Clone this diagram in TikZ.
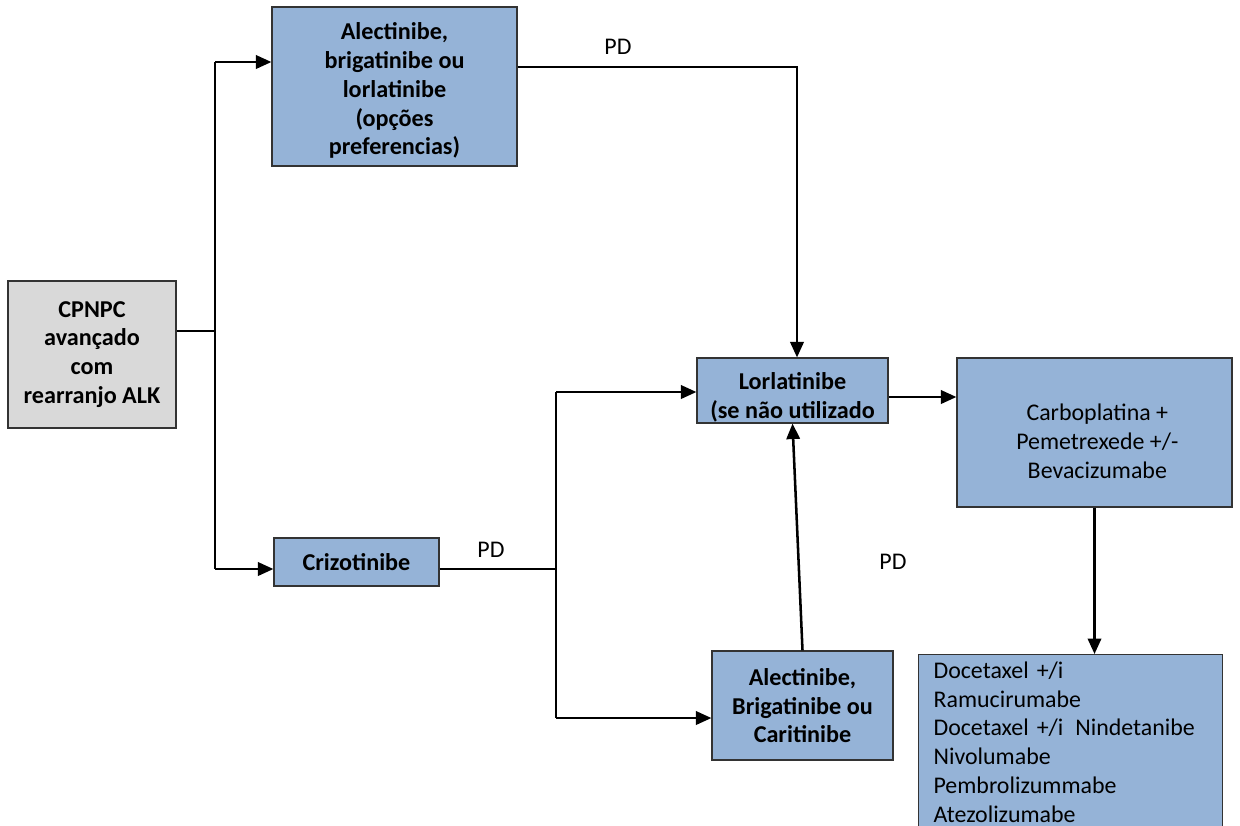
\documentclass[tikz,border=0pt]{standalone}
\usepackage{fontspec}
\setmainfont{Carlito}
\usetikzlibrary{arrows.meta}
\definecolor{boxblue}{HTML}{95B3D7}
\definecolor{boxgray}{HTML}{D9D9D9}
% lower the ink of a stack of lines, keep its size
\newcommand{\lowstack}[2]{\raisebox{-#1}[\height][\depth]{\begin{tabular}{@{}c@{}}#2\end{tabular}}}
\begin{document}
\begin{tikzpicture}[x=0.025cm, y=-0.025cm,
  box/.style={draw=black!80, line width=0.8pt, fill=boxblue, align=center,
    font=\fontsize{17.2}{20.5}\selectfont\bfseries, inner sep=0pt},
  startbox/.style={box, fill=boxgray},
  listbox/.style={draw=black!80, line width=0.8pt, fill=boxblue, align=left,
    font=\fontsize{17}{20.5}\selectfont, anchor=north west,
    inner xsep=0.375cm, inner ysep=5pt, text width=6.85cm},
  lbl/.style={font=\fontsize{17}{20.5}\selectfont},
  conn/.style={line width=1.8pt},
  tri/.style={conn, -{Triangle[length=11pt, width=9.5pt]}}]
\useasboundingbox (0,0) rectangle (1240,825);
\node[startbox, minimum width=4.2cm, minimum height=3.675cm] (n0) at (92,354.5)
  {CPNPC\\avançado\\com\\rearranjo ALK};
\node[box, minimum width=6.125cm, minimum height=3.975cm] (n1) at (394.5,86.5)
  {\lowstack{3.5pt}{Alectinibe,\\brigatinibe ou\\lorlatinibe\\(opções\\preferencias)}};
\node[box, minimum width=4.125cm, minimum height=1.2cm] (n2) at (356.5,562)
  {\lowstack{2pt}{Crizotinibe}};
\node[box, minimum width=4.775cm, minimum height=1.625cm] (n3) at (792.5,390.5)
  {\lowstack{5.5pt}{Lorlatinibe\\(se não utilizado}};
\node[box, font=\fontsize{17}{20.5}\selectfont, minimum width=6.875cm, minimum height=3.725cm] (n4) at (1094.5,432.5)
  {\lowstack{8pt}{\hspace{4pt}Carboplatina +\\\hspace{4pt}Pemetrexede +/-\\\hspace{4pt}Bevacizumabe}};
\node[box, minimum width=4.525cm, minimum height=2.725cm] (n5) at (802.5,705.5)
  {\lowstack{2pt}{Alectinibe,\\Brigatinibe ou\\Caritinibe}};
\node[listbox] (n6) at (918,654)
  {Docetaxel +/i\\Ramucirumabe\\Docetaxel +/i\ \,Nindetanibe\\Nivolumabe\\Pembrolizummabe\\Atezolizumabe};
% labels
\node[lbl] (pd1) at (618,47) {PD};
\node[lbl] (pd2) at (491,550) {PD};
\node[lbl] (pd3) at (893,562) {PD};
% junctions
\coordinate (j0) at (215,331);
\coordinate (j1) at (215,62);
\coordinate (j2) at (215,569);
\coordinate (j3) at (797,67);
\coordinate (j4) at (556,569);
\coordinate (j5) at (556,392);
\coordinate (j6) at (556,718);
\coordinate (j7) at (920,397);
\draw[conn] (n0.east |- j0) -- (j0);
\draw[conn] (j1) -- (j2);
\draw[tri] (j1) -- (j1 -| n1.west);
\draw[tri] (j2) -- (j2 -| n2.west);
\draw[tri] (n1.east |- j3) -- (j3) -- (j3 |- n3.north);
\draw[conn] (n2.east |- j4) -- (j4);
\draw[conn] (j5) -- (j6);
\draw[tri] (j5) -- (j5 -| n3.west);
\draw[tri] (j6) -- (j6 -| n5.west);
\draw[tri] (n5.north) -- (n3.south);
\draw[tri] (j7 -| n3.east) -- (j7 -| n4.west);
\draw[tri] (n4.south) -- (n4.south |- n6.north);
\end{tikzpicture}
\end{document}
